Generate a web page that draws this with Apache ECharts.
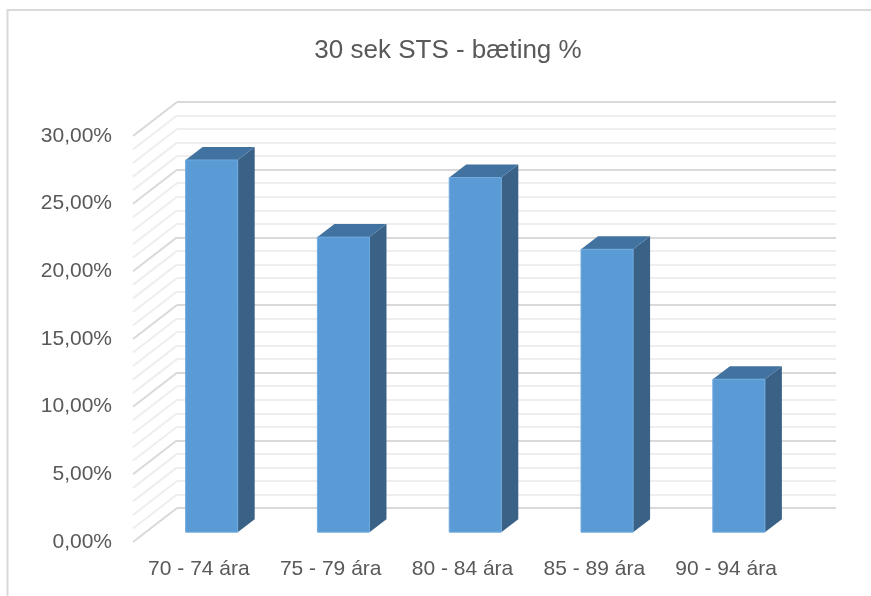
<!DOCTYPE html>
<html>
<head>
<meta charset="utf-8">
<script src="https://cdn.jsdelivr.net/npm/echarts@6/dist/echarts.min.js"></script>
<style>html,body{margin:0;padding:0;background:#fff;}#c{width:871px;height:596px;}</style>
</head>
<body>
<div id="c"></div>
<script>
// ---- data ----
const categories = ['70 - 74 ára', '75 - 79 ára', '80 - 84 ára', '85 - 89 ára', '90 - 94 ára'];
const values = [27.5, 21.8, 26.2, 20.9, 11.3];
const yTickLabels = ['0,00%', '5,00%', '10,00%', '15,00%', '20,00%', '25,00%', '30,00%'];
const wallLevels = [0,1,2,3,4,5,6,7,8,9,10,11,12,13,14,15,16,17,18,19,20,21,22,23,24,25,26,27,28,29,30];
const titleText = '30 sek STS - bæting %';

// ---- layout / style ----
const W = 871, H = 596;
const BACK = {left: 177, top: 102, width: 659, height: 406};
const DEPTH = [-44, 34];          // back wall -> front edge
const BAR_PLANE = 0.71;          // bar front-face depth fraction
const BAR_DEPTH = [17, -13];
const BAR_FRAC = 0.395;
const FONT = '"Liberation Sans", Arial, sans-serif';
const TXT = '#595959';

function gridAt(f) {
  const l = BACK.left + DEPTH[0] * f, t = BACK.top + DEPTH[1] * f;
  return {left: l, top: t, width: BACK.width, height: BACK.height};
}
const gBack = gridAt(0), gFront = gridAt(1), gBar = gridAt(BAR_PLANE);

const chart = echarts.init(document.getElementById('c'), null, {renderer: 'canvas'});
chart.setOption({
  backgroundColor: '#fff',
  animation: false,
  title: {
    text: titleText, left: 443, top: 33, textAlign: 'center',
    textStyle: {fontFamily: FONT, fontSize: 26, fontWeight: 'normal', color: TXT}
  },
  graphic: [{
    type: 'rect', silent: true, z: -10,
    shape: {x: 7.5, y: 10, width: 900, height: 700},
    style: {fill: 'none', stroke: '#d9d9d9', lineWidth: 2}
  }],
  grid: [
    Object.assign({containLabel: false}, gBack),
    Object.assign({containLabel: false}, gFront),
    Object.assign({containLabel: false}, gBar)
  ],
  xAxis: [
    {gridIndex: 0, type: 'value', min: 0, max: 1, show: false},
    {gridIndex: 1, type: 'category', data: categories,
      axisLine: {show: false}, axisTick: {show: false}, splitLine: {show: false},
      axisLabel: {margin: 17, fontFamily: FONT, fontSize: 21, color: TXT, interval: 0}},
    {gridIndex: 2, type: 'category', data: categories, show: false}
  ],
  yAxis: [
    {gridIndex: 0, type: 'value', min: 0, max: 30, interval: 5,
      axisLine: {show: false}, axisTick: {show: false}, axisLabel: {show: false},
      splitLine: {show: true, lineStyle: {color: '#d9d9d9', width: 2}},
      minorTick: {show: false, splitNumber: 5},
      minorSplitLine: {show: true, lineStyle: {color: '#eeeeee', width: 2}}},
    {gridIndex: 1, type: 'value', min: 0, max: 30, interval: 5,
      axisLine: {show: false}, axisTick: {show: false}, splitLine: {show: false},
      axisLabel: {margin: 21, fontFamily: FONT, fontSize: 21, color: TXT,
        formatter: function (v) { return yTickLabels[Math.round(v / 5)]; }}},
    {gridIndex: 2, type: 'value', min: 0, max: 30, show: false, splitLine: {show: false}}
  ],
  series: [
    {
      type: 'custom', xAxisIndex: 0, yAxisIndex: 0, z: 1, silent: true,
      data: wallLevels.map(function (l) { return [0, l]; }),
      renderItem: function (params, api) {
        const lvl = api.value(1);
        const p = api.coord([0, lvl]);
        const major = lvl % 5 === 0;
        return {
          type: 'line',
          shape: {x1: p[0], y1: p[1], x2: p[0] + DEPTH[0], y2: p[1] + DEPTH[1]},
          style: {stroke: major ? '#d9d9d9' : '#eeeeee', lineWidth: 2}
        };
      }
    },
    {
      type: 'custom', xAxisIndex: 2, yAxisIndex: 2, z: 5,
      data: values.map(function (v, i) { return [i, v]; }),
      renderItem: function (params, api) {
        const top = api.coord([api.value(0), api.value(1)]);
        const bot = api.coord([api.value(0), 0]);
        const bw = api.size([1, 0])[0] * BAR_FRAC;
        const l = top[0] - bw / 2, r = top[0] + bw / 2;
        const dx = BAR_DEPTH[0], dy = BAR_DEPTH[1];
        return {
          type: 'group',
          children: [
            {type: 'polygon', shape: {points: [[r, top[1]], [r + dx, top[1] + dy], [r + dx, bot[1] + dy], [r, bot[1]]]},
              style: {fill: '#3a6287'}},
            {type: 'polygon', shape: {points: [[l, top[1]], [l + dx, top[1] + dy], [r + dx, top[1] + dy], [r, top[1]]]},
              style: {fill: '#42729f'}},
            {type: 'rect', shape: {x: l, y: top[1], width: bw, height: bot[1] - top[1]},
              style: {fill: '#5b9bd5', stroke: '#6ea9de', lineWidth: 1}}
          ]
        };
      }
    }
  ]
});
</script>
</body>
</html>
